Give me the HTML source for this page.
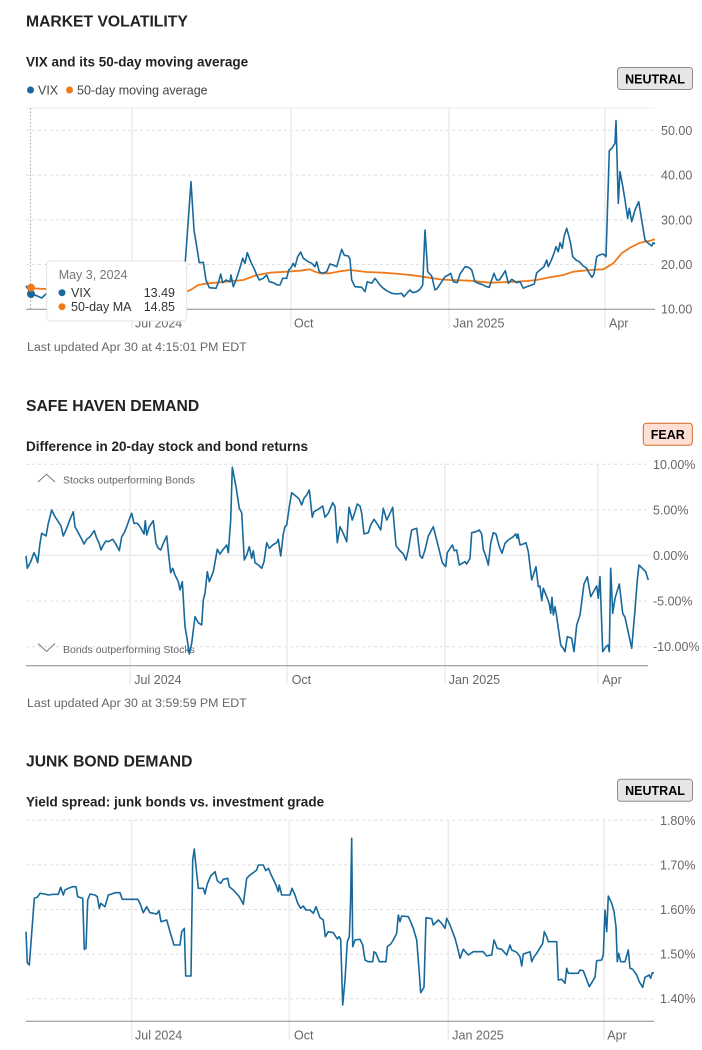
<!DOCTYPE html>
<html><head><meta charset="utf-8"><style>
html,body{margin:0;padding:0;background:#fff;}
svg{display:block;}
text{font-family:"Liberation Sans",Arial,sans-serif;}
.t{font-size:15.7px;font-weight:bold;fill:#222;}
.s{font-size:13.5px;font-weight:bold;fill:#222;}
.ax{font-size:12.5px;fill:#666;}
.lu{font-size:12.4px;fill:#666;}
.g{stroke:#dedede;stroke-width:1;stroke-dasharray:3,3;}
.v{stroke:#ececec;stroke-width:1.5;}
.a{stroke:#8a8a8a;stroke-width:1;}
.ln{fill:none;stroke:#17699b;stroke-width:1.6;stroke-linejoin:round;}
.ma{fill:none;stroke:#f07a1a;stroke-width:1.8;stroke-linejoin:round;}
.b{font-size:12.5px;font-weight:bold;fill:#000;}
</style></head><body>
<svg width="702" height="1050" viewBox="0 0 702 1050" xmlns="http://www.w3.org/2000/svg">
<!-- ============ CHART 1 ============ -->
<text class="t" x="26" y="26.7">MARKET VOLATILITY</text>
<text class="s" x="26" y="66.7">VIX and its 50-day moving average</text>
<circle cx="30.5" cy="90" r="3.5" fill="#17699b"/>
<text class="ax" x="38" y="94.5" style="fill:#444">VIX</text>
<circle cx="69.5" cy="90" r="3.5" fill="#f07a1a"/>
<text class="ax" x="77" y="94.5" style="fill:#444">50-day moving average</text>
<rect x="617.5" y="67.5" width="75" height="22" rx="3" fill="#e6e6e6" stroke="#8c8c8c"/>
<text class="b" x="655" y="83.3" text-anchor="middle">NEUTRAL</text>

<line x1="26" y1="108" x2="655" y2="108" stroke="#ececec" stroke-width="1"/>
<line class="g" x1="26" y1="130.4" x2="655" y2="130.4"/>
<line class="g" x1="26" y1="175.1" x2="655" y2="175.1"/>
<line class="g" x1="26" y1="219.8" x2="655" y2="219.8"/>
<line class="g" x1="26" y1="264.5" x2="655" y2="264.5"/>
<line class="v" x1="132" y1="108" x2="132" y2="328"/>
<line class="v" x1="291" y1="108" x2="291" y2="328"/>
<line class="v" x1="449" y1="108" x2="449" y2="328"/>
<line class="v" x1="605" y1="108" x2="605" y2="328"/>
<text class="ax" x="661" y="134.9">50.00</text>
<text class="ax" x="661" y="179.6">40.00</text>
<text class="ax" x="661" y="224.3">30.00</text>
<text class="ax" x="661" y="269">20.00</text>
<text class="ax" x="661" y="313.7">10.00</text>
<text class="ax" x="135" y="327.5">Jul 2024</text>
<text class="ax" x="294" y="327.5">Oct</text>
<text class="ax" x="453" y="327.5">Jan 2025</text>
<text class="ax" x="609" y="327.5">Apr</text>
<line x1="30.5" y1="108" x2="30.5" y2="309" stroke="#aaa" stroke-width="1" stroke-dasharray="1.5,2"/>
<polyline class="ma" points="26,287.3 31.7,288.3 46,289 70,290.5 100,293 130,295 160,295 180,293.5 186.7,291.7 191.7,289.3 198.3,285 208.3,283.3 220,282.3 233.3,281 243.3,280 256.7,275 270,272.7 286.7,271.7 300,270.7 310,269.3 315,271.7 320,273.3 330,273.3 340,271.3 350,270 366.7,272 383.3,272.7 400,274 413.3,275.3 426.7,277.3 440,279.3 450,280 470,280.7 490,282.7 510,282 526.7,281 536.7,280 550,277.3 563.3,275 573.3,271.7 590,270 603.3,269.3 613.3,263.3 621.7,253.3 630,247.7 640,242.7 650,240.7 655,239.3"/>
<polyline class="ln" points="26,285.7 31,294 36.7,295.7 41.7,298 46.7,293.3 55,292 65,296 75,294 90,296 105,293 120,296 135,292 150,294 165,290 175,288 182.7,290.7 185.3,261.7 191,181.7 194,230 199.3,262.7 203.3,262.3 206,280 209.3,287.7 216,288.3 218.7,281.7 220.7,274 222.7,282.7 226,280 230,281.7 231,275 233.3,286.7 236,280 239.3,270 242.7,258.3 245,263.3 247.3,252.7 250.7,261.7 254,268.3 256.7,275 259.3,280 263.3,278.3 266.7,275 269.3,281.7 273.3,282.7 277.3,285 280,285 282.7,278.3 286.7,278.3 288.7,270 290.7,268.3 293.3,263.3 295,266.7 297.7,256.7 300.7,252 303.3,258.3 308.3,261.7 311.7,263.3 315,266.7 316.7,261.7 319.3,271.7 322.7,273.3 326.7,271.7 330,264 333.3,265 336.7,266.7 341.7,249.3 344.3,255.3 348.3,256 350,259.3 351.7,280 355,286.7 361.7,287.3 365,291.7 367.3,281.7 371.7,283.3 375,278.3 380,285 383.3,288.3 386.7,290.7 391.7,293.3 396.7,294 401.7,293.3 404,296.7 407.3,292.7 410,290 412.7,292.7 416.7,291.7 420,289.3 422.7,285 425,230 427.7,271.7 431.7,276 435,290 437.3,288.3 441.7,281.7 445,276.7 448.3,275 450.7,273.3 453.3,281.7 457.3,282.7 460,274 465,266.7 468.3,267.3 471.7,270 475,281.7 478.3,283.3 481.7,284.3 486.7,286.7 489.3,287.3 491.7,280 494,273.3 496.7,280 499.3,280 502.7,275 505.3,270.7 508.3,283.3 511.7,279.3 516.7,282.7 520,281.7 523.3,288.3 526.7,286.7 531.7,285 534.3,284 536.7,272.7 540,270 544,266.7 546.7,260 548.3,266.7 551.7,259.3 554,253.3 556,246.7 558.3,251.7 560,242.7 562.3,248.3 564,236.7 566.7,228.3 569,236.7 570.7,244 572.7,256.7 576,260 579.3,261.7 583.3,266 586.7,268.3 589.3,273.3 592,277.3 594,274 596.7,256.7 599.3,255 603.3,254 606,256.7 609.3,150.7 612,148 615,143.3 616,120.7 618.3,203.3 620,171.7 622.7,186 625,200 627.7,218.3 629.3,208.3 631.7,221.7 635,210 638.7,201.7 641.7,220 645,240 647.7,242.7 651.7,246 653.3,242.7 655,244"/>
<line class="a" x1="26" y1="309.2" x2="655" y2="309.2"/>
<circle cx="31" cy="294" r="4" fill="#17699b"/>
<circle cx="31" cy="287.7" r="4" fill="#f07a1a"/>
<!-- tooltip -->
<rect x="46.7" y="261" width="140" height="60" rx="4" fill="#fff" stroke="#e2e2e2"/>
<text x="58.7" y="279" style="font-size:12.5px;fill:#777">May 3, 2024</text>
<circle cx="62" cy="292.7" r="3.5" fill="#17699b"/>
<text x="71" y="297" style="font-size:12.5px;fill:#333">VIX</text>
<text x="175" y="297" text-anchor="end" style="font-size:12.5px;fill:#333">13.49</text>
<circle cx="62" cy="306.7" r="3.5" fill="#f07a1a"/>
<text x="71" y="311" style="font-size:12.5px;fill:#333">50-day MA</text>
<text x="175" y="311" text-anchor="end" style="font-size:12.5px;fill:#333">14.85</text>
<text class="lu" x="27" y="351">Last updated Apr 30 at 4:15:01 PM EDT</text>

<!-- ============ CHART 2 ============ -->
<text class="t" x="26" y="411">SAFE HAVEN DEMAND</text>
<text class="s" x="26" y="451">Difference in 20-day stock and bond returns</text>
<rect x="643.3" y="423.3" width="49" height="22" rx="3" fill="#fddfd3" stroke="#d8681f"/>
<text class="b" x="667.8" y="439" text-anchor="middle">FEAR</text>
<line class="g" x1="26" y1="464.3" x2="648" y2="464.3"/>
<line class="g" x1="26" y1="509.9" x2="648" y2="509.9"/>
<line x1="26" y1="555.3" x2="648" y2="555.3" stroke="#e0e0e0" stroke-width="1"/>
<line class="g" x1="26" y1="601.1" x2="648" y2="601.1"/>
<line class="g" x1="26" y1="646.7" x2="648" y2="646.7"/>
<line class="v" x1="130" y1="464" x2="130" y2="684"/>
<line class="v" x1="287" y1="464" x2="287" y2="684"/>
<line class="v" x1="445" y1="464" x2="445" y2="684"/>
<line class="v" x1="598" y1="464" x2="598" y2="684"/>
<text class="ax" x="653" y="468.8">10.00%</text>
<text class="ax" x="653" y="514.4">5.00%</text>
<text class="ax" x="653" y="559.8">0.00%</text>
<text class="ax" x="653" y="605.6">-5.00%</text>
<text class="ax" x="653" y="651.2">-10.00%</text>
<text class="ax" x="134.3" y="684">Jul 2024</text>
<text class="ax" x="291.7" y="684">Oct</text>
<text class="ax" x="448.7" y="684">Jan 2025</text>
<text class="ax" x="602.3" y="684">Apr</text>
<polyline points="38,482 46.5,474.3 55,482" fill="none" stroke="#777" stroke-width="1"/>
<text x="63" y="483.5" style="font-size:10.5px;fill:#666">Stocks outperforming Bonds</text>
<polyline points="38,643.5 46.5,651.5 55,643.5" fill="none" stroke="#777" stroke-width="1"/>
<text x="63" y="652.8" style="font-size:10.5px;fill:#666">Bonds outperforming Stocks</text>
<polyline class="ln" points="26,556 27.3,568.3 30.7,561.7 34,552.7 36,557 37.7,562.7 40,543.3 41.7,533.3 46,536 48.3,523.3 51.7,510 55,516.7 58.3,521.7 61,526 63.3,536 66.7,528.3 70,519.3 73.3,511.7 75,526.7 78.3,532.7 81.7,539.3 84,544 86.7,539.3 90,536.7 94.3,530.7 96.7,538.3 99,542.7 101,550 103.3,545 106,541 108.3,541.7 112.7,539.3 115,542.7 117.3,546.7 119.3,550.7 121.7,536.7 124.3,532.7 126.7,526.7 129,520 131.7,513.3 134,523.3 137.3,523.3 140,526.7 144,534 145.3,520.7 146.7,535 149.3,526.7 153.3,520.7 156,543.3 158.3,548.3 160.7,550 163.3,543.3 166.7,536 169,558.3 170.7,572.7 172.7,568.3 175,575 178.3,581.7 180,590 182.3,581.7 185,626.7 187.3,640 189.3,654 191.7,643.3 195,616.7 198.3,622.7 201.7,625 203.3,600 205,593.3 207.3,571.7 209.3,581.7 213.3,571.7 216,556.7 217.3,549.3 220,554 222.7,550 226.7,545 228.3,552.7 230.7,520 232.3,467.3 236,486.7 239.3,508.3 241.7,512.7 244.3,560 246.7,555 249.3,546.7 251.7,558.3 253.3,550.7 255,562.7 258.3,565 261.7,568.3 264,561.7 266.7,542.7 269.3,548.3 272.7,545 276.7,542.7 278.3,539.3 280.7,556 283.3,534 285,526.7 286.7,525 289.3,506.7 291.7,492.7 296.7,496.7 299.3,499.3 301.7,505 304,498.3 306.7,495 309.3,490 312.3,517.3 314,511.7 318.3,509.3 322.7,506 325,517.3 328.3,513.3 332.7,502.7 335,506.7 337.3,542.7 340,526.7 343.3,533.3 346.7,541.7 349,507.3 352.3,520 355,511.7 357.3,504 360,506 361.7,513.3 364,534 368.3,532.7 370.7,525 374,519.3 377.3,524 380.7,530 383.3,508.3 386.7,520 390,513.3 392.7,507.3 396,545.7 399.3,550 403.3,554 406,560 408.3,550 411.7,530 416.7,528.3 420,555.7 422.3,558.3 425,550 428.3,536 433.3,526.7 436.7,540 440,553.3 442.3,562.7 445.7,566.7 447.3,552.7 452.3,545 454.3,550.7 456.7,550 459.3,565 465,561.7 466.7,564 470,558.3 471.7,532.7 476,531.7 479.3,530 481.7,534 483.3,549.3 486,556.7 488.3,565 490.7,543.3 493.3,532.7 496,534 499.3,546.7 502,553.3 505,543.3 508.3,540 513.3,536.7 515.7,534 517.3,538.3 518,534 520,545 523.3,544 526,542.7 528.3,551.7 531.7,580 536,566.7 538.3,586.7 540,586 541.7,600.7 543.3,588.3 546.7,596.7 549.3,604 550.7,613.3 552,597.3 553.3,615 555,606.7 556.7,616.7 560.7,645 563,648 565,651.7 567.3,636.7 571.7,638.3 574,651.7 576.7,625 580,615 584,584 587.3,576.7 590.7,596.7 594,590.7 596.7,586 598.3,598.3 600,576.7 602.7,651.7 606,646.7 608,645 609.3,651.7 610.7,568.3 612.7,613.3 615,598.3 619.3,584 622.7,613.3 625,617.3 631.7,648.3 635,610 637.3,580 639,565 643.3,569.3 645.7,571.7 648.3,580"/>
<line class="a" x1="26" y1="665.7" x2="648" y2="665.7"/>
<text class="lu" x="27" y="707">Last updated Apr 30 at 3:59:59 PM EDT</text>

<!-- ============ CHART 3 ============ -->
<text class="t" x="26" y="766.7">JUNK BOND DEMAND</text>
<text class="s" x="26" y="806.3">Yield spread: junk bonds vs. investment grade</text>
<rect x="617.5" y="779.3" width="75" height="22" rx="3" fill="#e6e6e6" stroke="#8c8c8c"/>
<text class="b" x="655" y="795.2" text-anchor="middle">NEUTRAL</text>
<line class="g" x1="26" y1="820.3" x2="654" y2="820.3"/>
<line class="g" x1="26" y1="864.9" x2="654" y2="864.9"/>
<line class="g" x1="26" y1="909.5" x2="654" y2="909.5"/>
<line class="g" x1="26" y1="954.1" x2="654" y2="954.1"/>
<line class="g" x1="26" y1="998.7" x2="654" y2="998.7"/>
<line class="v" x1="131.7" y1="820" x2="131.7" y2="1040"/>
<line class="v" x1="289.3" y1="820" x2="289.3" y2="1040"/>
<line class="v" x1="448.3" y1="820" x2="448.3" y2="1040"/>
<line class="v" x1="604" y1="820" x2="604" y2="1040"/>
<text class="ax" x="660" y="824.8">1.80%</text>
<text class="ax" x="660" y="869.4">1.70%</text>
<text class="ax" x="660" y="914">1.60%</text>
<text class="ax" x="660" y="958.6">1.50%</text>
<text class="ax" x="660" y="1003.2">1.40%</text>
<text class="ax" x="135" y="1039.5">Jul 2024</text>
<text class="ax" x="294" y="1039.5">Oct</text>
<text class="ax" x="452.3" y="1039.5">Jan 2025</text>
<text class="ax" x="607.3" y="1039.5">Apr</text>
<polyline class="ln" points="26,931.7 27.3,962.7 29.3,965 31.7,933.3 34.3,898.3 37.3,897.3 40,893.3 45,894 48.3,895 53.3,894.3 58.3,894.3 60.7,887.3 63.3,895 65,890 68.3,888.3 72.7,886.7 76,886.7 77.7,896.7 82.7,898.3 84.3,949.3 86,948.3 87.7,900 90,894 95,895 97.3,896.7 99.3,908.3 100.7,903.3 105,906.7 108.3,895 111.7,894 115,892.7 120,892.7 122.3,899.3 128.3,899.3 137.7,899.3 140,903.3 143.3,912.7 146.7,906.7 150,912.7 153.3,913.3 156.7,914 159,910.7 161,921.7 166.7,920 170,931.7 174,945 180,945 181.7,931.7 184.3,928.3 185.7,976 191,976 192.7,860 194.3,849 196,866.7 198.3,888.3 203.3,888.3 205,894 207.3,884 210.7,876 215,871.7 217.3,880.7 220.7,883.3 223.3,879.3 227.7,878.3 229.3,886.7 233.3,890 239.3,896.7 243.3,904.3 246.7,878.3 250,875 253.3,872.7 256.7,870 258.3,865 263.3,865 265.7,870.7 268.3,868.3 271.7,876 276,885 278.3,891.7 279.3,885 281.7,895 290,895 292,888.3 295,895 297.7,903.3 300.7,908.3 303.3,906 306,910 310,910 313.3,913.3 316,906.7 320,917.7 323.3,920 325.3,936.7 328.3,931.7 333.3,932.7 337.3,939 339,936.7 340.7,939.3 342.7,1005 345,980 347.3,941.7 349.3,936.7 350.5,905 351.7,838.3 352.7,946.7 355,940 360,939.3 362.7,945 365,960 368.3,961.7 372.7,961.7 374,951.7 376,953.3 379.3,961.7 386,961.7 387.3,946.7 390.7,944 393.3,940 396.7,933.3 398.3,915 400,921.7 401.7,916 408.3,916.7 411,922.7 413.3,928.3 416.7,940 419.3,973.3 420.7,992.7 424,987.3 426,917.7 431.7,918.7 433.3,925 438.3,920 441.7,923.3 445,928.3 446.7,918.3 450,925 455,938.3 457.3,946.7 460,958.3 463.3,949.3 468.3,955 473.3,951.7 483.3,951.7 486.7,956 491.7,955 494,940 497.3,948.3 501.7,949.3 506.7,955 510,945 511.7,950 516.7,952.3 520,956.7 521.7,966 523.3,954 530,951.7 531.7,961.7 534,956.7 536.7,953.3 542.7,943.3 544.3,931.7 546.7,936.7 548.3,941.7 556.7,941.7 558.3,980 561.7,979.3 565,983.3 566.7,968.3 568.3,973.3 578.3,973.3 580,970 583.3,970.7 589.3,986.7 595,977.3 596.7,960.7 601.7,960 603.3,955 605,910 606.7,931.7 608.3,896 611.7,903.3 614,911.7 616,926.7 617.3,961.7 618.7,953.3 620.7,961.7 625,961.7 628.3,950 630,968.3 632.7,969.3 636.7,975 639.3,981.7 642.7,987.3 645,977.3 649.3,975 650.7,978.3 652.3,972.7 654,973.3"/>
<line class="a" x1="26" y1="1021.3" x2="654" y2="1021.3"/>
</svg>
</body></html>
